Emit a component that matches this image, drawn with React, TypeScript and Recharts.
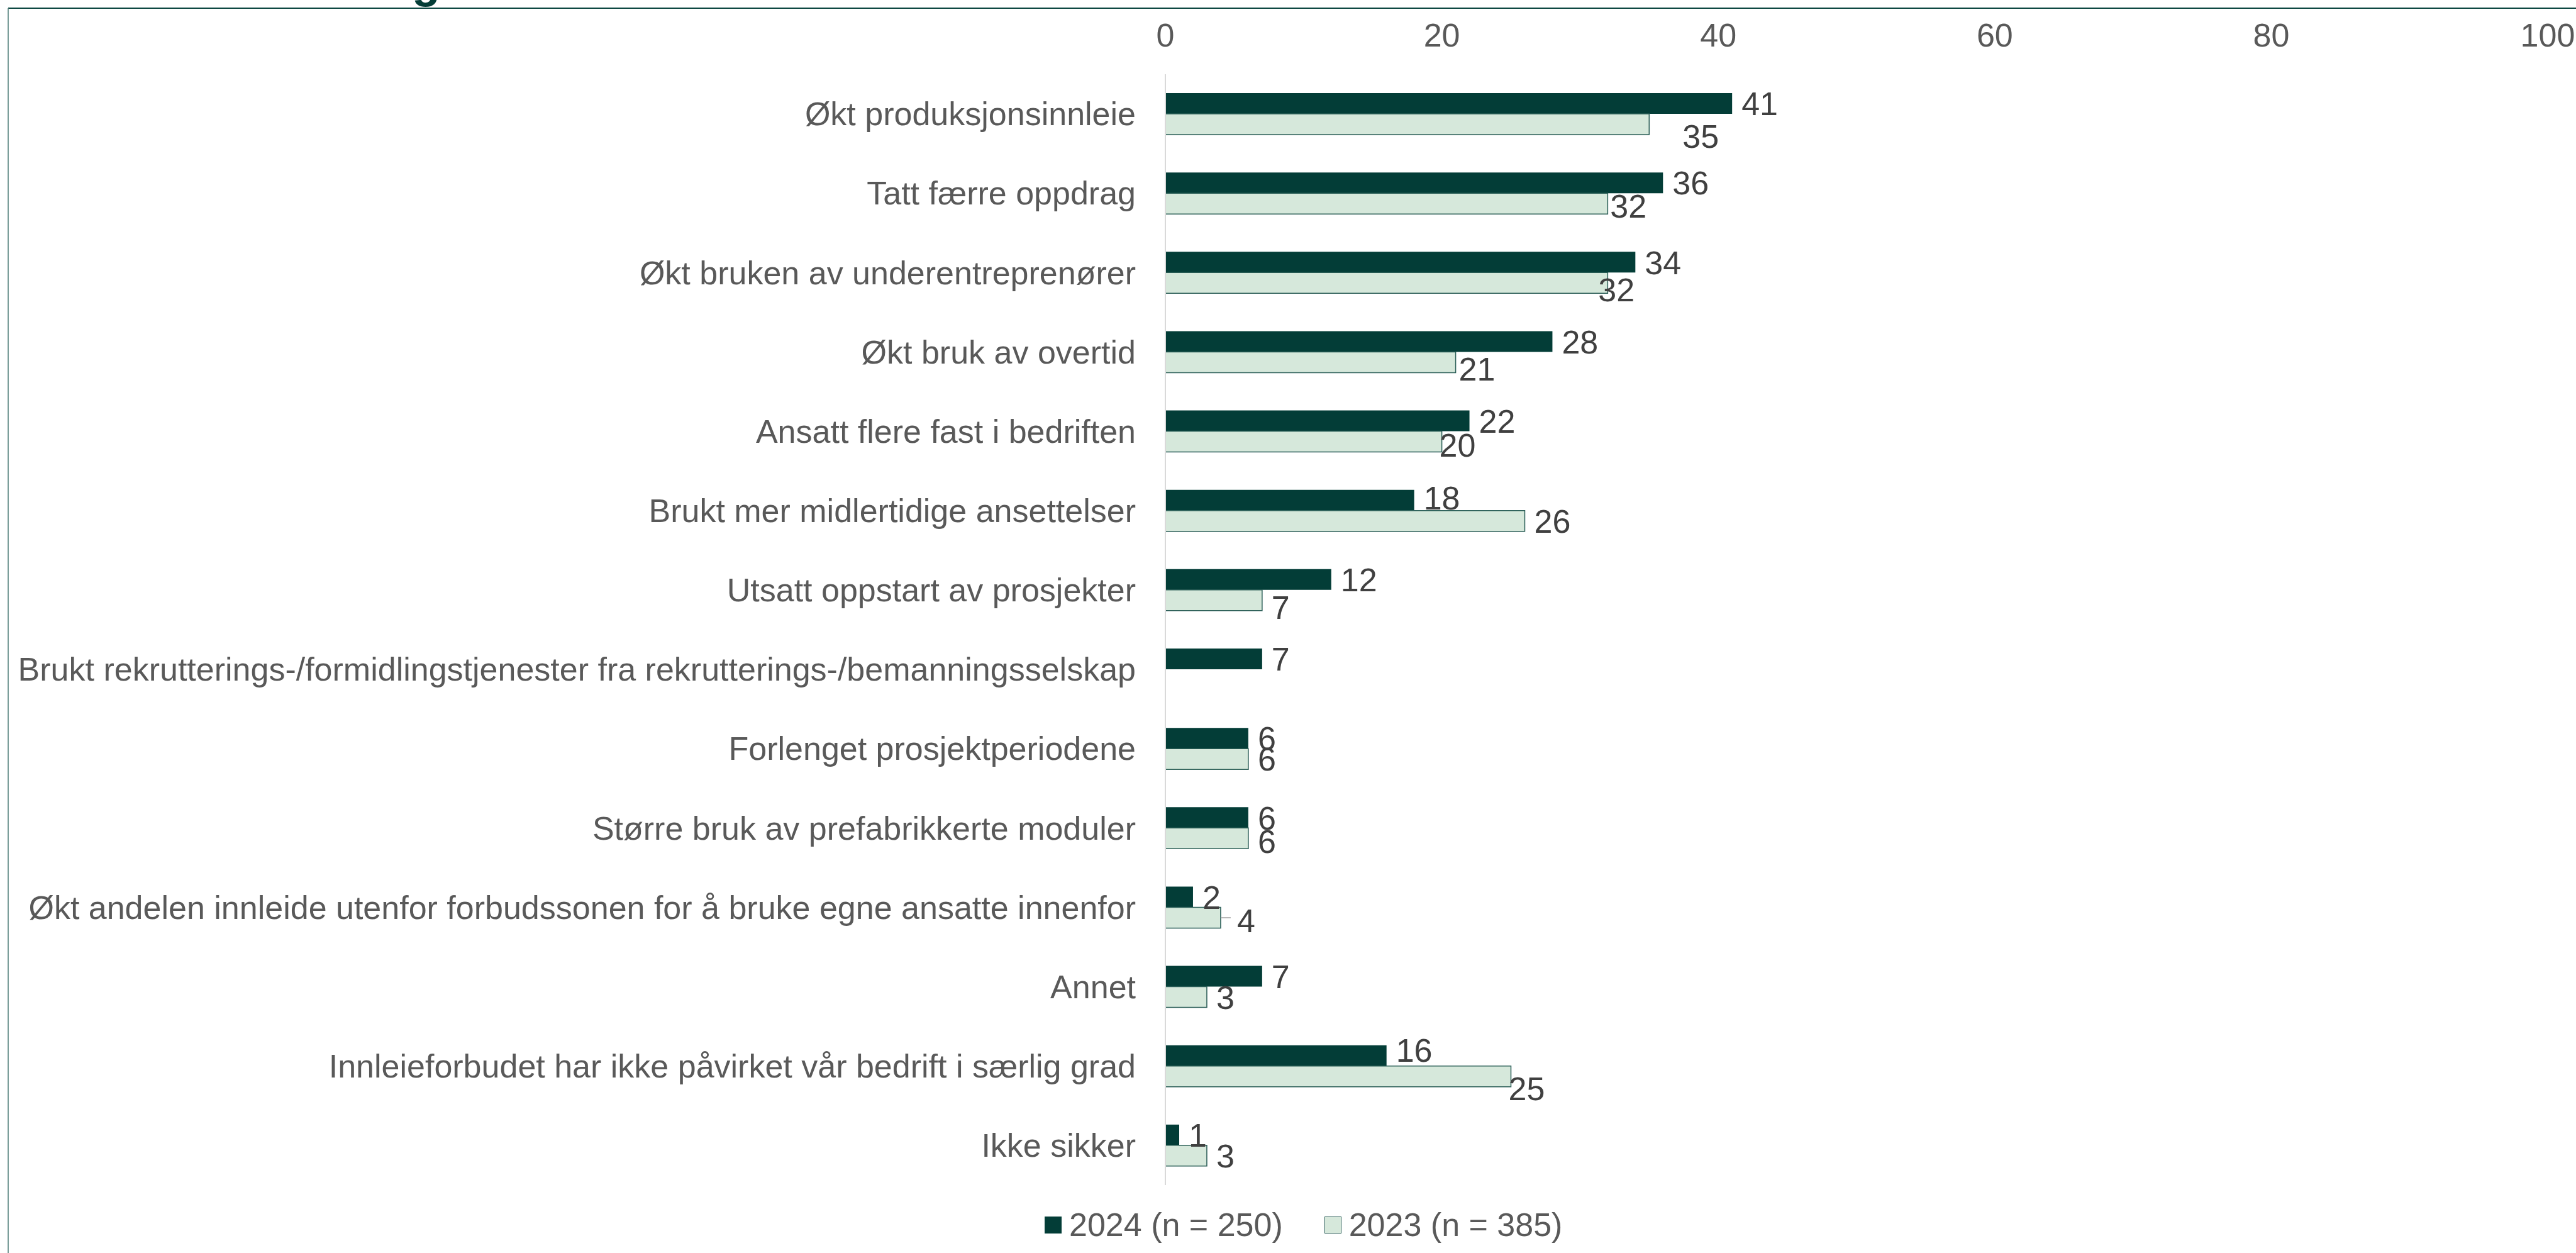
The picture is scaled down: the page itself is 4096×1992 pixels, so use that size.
import { BarChart, Bar, XAxis, YAxis, Legend, LabelList } from "recharts";

// tiltak bedriftene har gjort, andel i prosent
const categories = [
  "Økt produksjonsinnleie",
  "Tatt færre oppdrag",
  "Økt bruken av underentreprenører",
  "Økt bruk av overtid",
  "Ansatt flere fast i bedriften",
  "Brukt mer midlertidige ansettelser",
  "Utsatt oppstart av prosjekter",
  "Brukt rekrutterings-/formidlingstjenester fra rekrutterings-/bemanningsselskap",
  "Forlenget prosjektperiodene",
  "Større bruk av prefabrikkerte moduler",
  "Økt andelen innleide utenfor forbudssonen for å bruke egne ansatte innenfor",
  "Annet",
  "Innleieforbudet har ikke påvirket vår bedrift i særlig grad",
  "Ikke sikker",
];
const values2024 = [41, 36, 34, 28, 22, 18, 12, 7, 6, 6, 2, 7, 16, 1];
const values2023 = [35, 32, 32, 21, 20, 26, 7, null, 6, 6, 4, 3, 25, 3];
const xTicks = [0, 20, 40, 60, 80, 100];
const seriesNames = ["2024 (n = 250)", "2023 (n = 385)"];

const data = categories.map((name, i) => ({
  name,
  v2024: values2024[i],
  v2023: values2023[i],
}));

const DARK = "#033D37";
const LIGHT = "#D6E8DB";
const LIGHT_STROKE = "#2B5E57";
const FONT = "'Liberation Sans', Arial, sans-serif";
const FS = 52;

// labels in the original were nudged by hand, [dx, dy]
const nudge2023: Record<number, [number, number]> = {
  0: [38, 19],
  1: [-11, 4],
  2: [-30, 10],
  3: [-10, 10],
  4: [-19, 5],
  6: [0, 11],
  8: [0, 4],
  9: [11, 4],
  11: [-19, 19],
};
const nudge2024: Record<number, [number, number]> = {
  5: [0, -4],
  12: [0, -9],
};

const makeLabel = (nudges: Record<number, [number, number]>, leader?: number) => (props: any) => {
  const { x, y, width, height, value, index } = props;
  if (value == null) return null;
  const [dx, dy] = nudges[index] || [0, 0];
  const end = x + width;
  const cy = y + height / 2;
  return (
    <g>
      {leader === index && (
        <line x1={end} x2={end + 16} y1={cy} y2={cy} stroke="#A6A6A6" strokeWidth={1.5} />
      )}
      <text
        x={end + 15 + dx}
        y={cy + dy}
        dy="0.36em"
        fill="#404040"
        fontSize={FS}
        fontFamily={FONT}
      >
        {value}
      </text>
    </g>
  );
};

const CategoryTick = ({ x, y, payload }: any) => (
  <text x={x} y={y} dy="0.35em" textAnchor="end" fill="#595959" fontSize={FS} fontFamily={FONT}>
    {payload.value}
  </text>
);

const ValueTick = ({ x, y, payload }: any) => (
  <text x={x} y={y} textAnchor="middle" fill="#595959" fontSize={FS} fontFamily={FONT}>
    {payload.value}
  </text>
);

const renderLegend = () => (
  <div style={{ display: "flex", alignItems: "center", height: 60, fontFamily: FONT, fontSize: FS, color: "#595959" }}>
    {seriesNames.map((s, i) => (
      <div key={s} style={{ display: "flex", alignItems: "center", marginRight: 66 }}>
        <div
          style={{
            width: 27,
            height: 27,
            boxSizing: "border-box",
            background: i === 0 ? DARK : LIGHT,
            border: i === 0 ? "none" : `1.5px solid ${LIGHT_STROKE}`,
            marginRight: 12,
          }}
        />
        <span style={{ lineHeight: "60px", whiteSpace: "nowrap" }}>{s}</span>
      </div>
    ))}
  </div>
);

export default function App() {
  return (
    <div style={{ position: "absolute", left: 0, top: 0, width: 4096, height: 1992, background: "#fff", overflow: "hidden" }}>
      <style>{`body{margin:0}`}</style>
      <BarChart
        width={4096}
        height={1992}
        data={data}
        layout="vertical"
        margin={{ top: 0, right: 45, bottom: 108, left: 0 }}
        barGap={0}
      >
        <XAxis
          type="number"
          orientation="top"
          domain={[0, 100]}
          ticks={xTicks}
          height={118}
          axisLine={false}
          tickLine={false}
          tickSize={0}
          tickMargin={44}
          tick={<ValueTick />}
          interval={0}
        />
        <YAxis
          type="category"
          dataKey="name"
          width={1853}
          axisLine={{ stroke: "#D9D9D9", strokeWidth: 2 }}
          tickLine={false}
          tickSize={0}
          tickMargin={47}
          tick={<CategoryTick />}
          interval={0}
        />
        <Legend
          layout="horizontal"
          verticalAlign="middle"
          align="center"
          content={renderLegend}
          wrapperStyle={{ left: 1661, top: 1917, width: 1200, height: 60 }}
        />
        <Bar dataKey="v2024" name={seriesNames[0]} fill={DARK} barSize={33} isAnimationActive={false}>
          <LabelList dataKey="v2024" content={makeLabel(nudge2024)} />
        </Bar>
        <Bar
          dataKey="v2023"
          name={seriesNames[1]}
          fill={LIGHT}
          stroke={LIGHT_STROKE}
          strokeWidth={1.5}
          barSize={33}
          isAnimationActive={false}
        >
          <LabelList dataKey="v2023" content={makeLabel(nudge2023, 9)} />
        </Bar>
      </BarChart>
      <svg width={4096} height={1992} style={{ position: "absolute", left: 0, top: 0, pointerEvents: "none" }}>
        <text x={655} y={-4} fill={DARK} fontSize={74} fontWeight="bold" fontFamily={FONT}>
          g
        </text>
        <line x1={13} x2={4096} y1={13} y2={13} stroke="#0B4640" strokeWidth={2} />
        <line x1={13} x2={13} y1={13} y2={1992} stroke="#4E7D77" strokeWidth={1.5} />
      </svg>
    </div>
  );
}
